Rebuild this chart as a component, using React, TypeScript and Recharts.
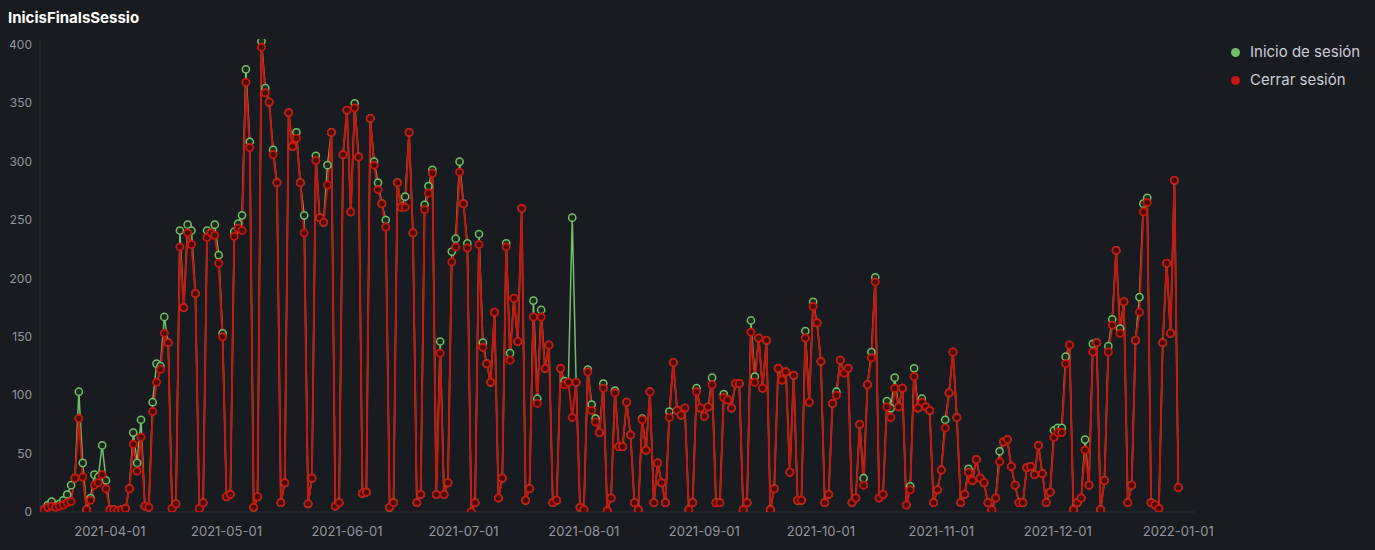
import { LineChart, Line, XAxis, YAxis, CartesianGrid } from 'recharts';

// one value per day, starting 2021-03-15
const startDate = '2021-03-15';

const cerrarSesion = [
  2, 4, 5, 4, 5, 6, 8, 9, 29, 80, 30, 2, 10, 23, 25, 32, 20, 2, 2, 1,
  2, 3, 20, 58, 35, 64, 5, 4, 86, 111, 122, 153, 145, 3, 7, 227, 175, 239, 229, 187,
  3, 8, 235, 239, 237, 213, 150, 13, 15, 236, 243, 241, 368, 312, 4, 13, 398, 359, 351, 306,
  282, 8, 25, 342, 313, 320, 282, 239, 7, 29, 301, 252, 248, 280, 325, 5, 8, 306, 344, 257,
  346, 304, 16, 17, 337, 297, 276, 264, 244, 4, 8, 282, 261, 261, 325, 239, 8, 15, 259, 273,
  290, 15, 136, 15, 25, 214, 227, 291, 264, 226, 0, 8, 229, 141, 127, 111, 171, 12, 29, 227,
  130, 183, 146, 260, 10, 20, 167, 93, 167, 123, 143, 8, 10, 123, 109, 111, 81, 111, 4, 2,
  120, 87, 77, 68, 106, 1, 12, 102, 56, 56, 94, 66, 8, 2, 79, 53, 103, 8, 42, 25,
  8, 81, 128, 87, 83, 89, 2, 8, 103, 89, 82, 90, 109, 8, 8, 98, 96, 89, 110, 110,
  2, 8, 154, 111, 149, 106, 147, 2, 20, 123, 113, 120, 34, 117, 10, 10, 149, 94, 176, 162,
  129, 8, 15, 93, 100, 130, 119, 123, 8, 12, 75, 23, 109, 132, 197, 12, 15, 90, 81, 106,
  90, 106, 6, 19, 116, 89, 94, 90, 87, 8, 19, 36, 72, 102, 137, 81, 8, 15, 34, 27,
  45, 29, 25, 8, 2, 12, 43, 60, 62, 39, 23, 8, 8, 38, 39, 32, 57, 33, 8, 17,
  64, 68, 68, 127, 143, 2, 8, 12, 53, 23, 137, 145, 2, 27, 137, 160, 224, 153, 180, 8,
  23, 147, 171, 257, 265, 8, 6, 3, 145, 213, 153, 284, 21,
];

const inicioSesion = [
  2, 6, 9, 5, 7, 10, 15, 23, 29, 103, 42, 2, 12, 32, 30, 57, 27, 2, 2, 1,
  2, 3, 20, 68, 42, 79, 5, 4, 94, 127, 125, 167, 145, 3, 7, 241, 175, 246, 241, 187,
  3, 8, 241, 239, 246, 220, 153, 13, 15, 240, 247, 254, 379, 317, 4, 13, 403, 363, 351, 310,
  282, 8, 25, 342, 313, 325, 282, 254, 7, 29, 305, 252, 248, 297, 325, 5, 8, 306, 344, 257,
  350, 304, 16, 17, 337, 300, 282, 264, 250, 4, 8, 282, 261, 270, 325, 239, 8, 15, 263, 279,
  293, 15, 146, 15, 25, 223, 234, 300, 264, 230, 0, 8, 238, 145, 127, 111, 171, 12, 29, 230,
  136, 183, 146, 260, 10, 20, 181, 97, 173, 123, 143, 8, 10, 123, 112, 111, 252, 111, 4, 2,
  122, 92, 80, 68, 110, 1, 12, 104, 56, 56, 94, 66, 8, 2, 80, 53, 103, 8, 42, 25,
  8, 86, 128, 87, 83, 89, 2, 8, 106, 89, 82, 90, 115, 8, 8, 101, 96, 89, 110, 110,
  2, 8, 164, 116, 149, 106, 147, 2, 20, 123, 113, 120, 34, 117, 10, 10, 155, 94, 180, 162,
  129, 8, 15, 93, 103, 130, 119, 123, 8, 12, 75, 29, 109, 137, 201, 12, 15, 95, 89, 115,
  90, 106, 6, 22, 123, 89, 97, 90, 87, 8, 19, 36, 79, 102, 137, 81, 8, 15, 37, 27,
  45, 29, 25, 8, 2, 12, 52, 60, 62, 39, 23, 8, 8, 38, 39, 32, 57, 33, 8, 17,
  70, 72, 72, 133, 143, 2, 8, 12, 62, 23, 144, 145, 2, 27, 142, 165, 224, 157, 180, 8,
  23, 147, 184, 264, 269, 8, 6, 3, 145, 213, 153, 284, 21,
];

const yTicks = [0, 50, 100, 150, 200, 250, 300, 350, 400];
const xTickLabels = [
  '2021-04-01', '2021-05-01', '2021-06-01', '2021-07-01', '2021-08-01',
  '2021-09-01', '2021-10-01', '2021-11-01', '2021-12-01', '2022-01-01',
];

const DAY = 86400000;
const dayOf = (s: string) => Math.round((Date.parse(s) - Date.parse(startDate)) / DAY);

const data = cerrarSesion.map((v, i) => ({ day: i, inicio: inicioSesion[i], cerrar: v }));
const xTicks = xTickLabels.map(dayOf);
const labelByDay: Record<number, string> = {};
xTicks.forEach((d, i) => { labelByDay[d] = xTickLabels[i]; });

const GREEN = '#73bf69';
const RED = '#c4180f';
const TEXT = 'rgba(204, 204, 220, 0.7)';

export default function App() {
  return (
    <div style={{ position: 'absolute', left: 0, top: 0, width: 1375, height: 550, background: '#181b1f', fontFamily: 'Inter, sans-serif' }}>
      <div style={{ position: 'absolute', left: 8, top: 8, color: '#fff', fontSize: 15, fontWeight: 700 }}>
        InicisFinalsSessio
      </div>
      <LineChart width={1375} height={550} data={data} margin={{ top: 39, right: 180, bottom: 0, left: 0 }}>
        <CartesianGrid stroke="rgba(240, 250, 255, 0.05)" horizontal={false} vertical={false} />
        <XAxis
          type="number"
          dataKey="day"
          domain={[-1, 296.3]}
          ticks={xTicks}
          tickFormatter={(d) => labelByDay[d] ?? ''}
          height={38}
          tickLine={false}
          axisLine={{ stroke: 'rgba(240, 250, 255, 0.09)' }}
          tickMargin={9}
          tick={{ fill: TEXT, fontSize: 13 }}
          allowDataOverflow
        />
        <YAxis
          domain={[0, 405]}
          ticks={yTicks}
          width={40}
          tickLine={false}
          axisLine={{ stroke: 'rgba(240, 250, 255, 0.09)' }}
          tick={{ fill: TEXT, fontSize: 12 }}
          allowDataOverflow
        />
        <Line
          dataKey="inicio"
          stroke={GREEN}
          strokeWidth={1.5}
          dot={{ r: 3.6, fill: '#1b2a1a', stroke: GREEN, strokeWidth: 1.5 }}
          isAnimationActive={false}
        />
        <Line
          dataKey="cerrar"
          stroke={RED}
          strokeWidth={2}
          dot={{ r: 3.6, fill: '#4a0a06', stroke: RED, strokeWidth: 1.8 }}
          isAnimationActive={false}
        />
      </LineChart>
      <div style={{ position: 'absolute', left: 1231, top: 38, color: '#ccccdc', fontSize: 15, lineHeight: '28px' }}>
        <div style={{ display: 'flex', alignItems: 'center' }}>
          <span style={{ width: 9, height: 9, borderRadius: '50%', background: GREEN, marginRight: 10 }} />
          Inicio de sesión
        </div>
        <div style={{ display: 'flex', alignItems: 'center' }}>
          <span style={{ width: 9, height: 9, borderRadius: '50%', background: RED, marginRight: 10 }} />
          Cerrar sesión
        </div>
      </div>
    </div>
  );
}
